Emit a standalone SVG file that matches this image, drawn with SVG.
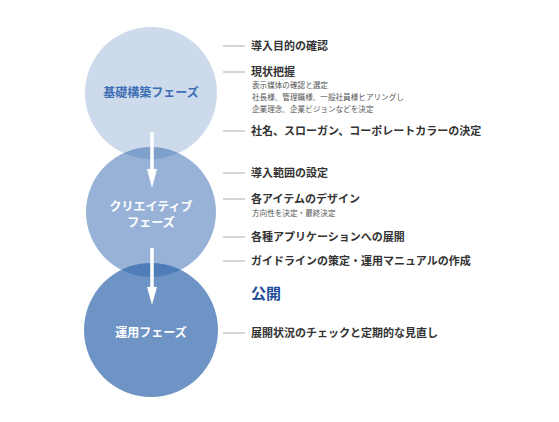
<svg xmlns="http://www.w3.org/2000/svg" width="559" height="422" viewBox="0 0 559 422">
<defs>
<style>
.ph{fill:#2f66ad}
.lbl{font-family:"Noto Sans CJK JP","Noto Sans",sans-serif;font-weight:700;font-size:12px;text-anchor:middle;fill:#fff}
.it{font-family:"Noto Sans CJK JP","Liberation Serif",sans-serif;font-weight:700;font-size:11px;fill:#333}
.sm{font-family:"Noto Sans CJK JP","Liberation Sans",sans-serif;font-size:7.6px;fill:#555}
.ln{stroke:#aaa;stroke-width:1}
.ar{stroke:#fff;stroke-width:3.5}
</style>
</defs>
<rect width="559" height="422" fill="#fff"/>
<g id="phase1"><circle class="ph" cx="151" cy="93" r="66" fill-opacity="0.24"/><text class="lbl" x="151" y="97" style="fill:#3d6fb5">基礎構築フェーズ</text></g>
<g id="phase2"><circle class="ph" cx="151" cy="212" r="65" fill-opacity="0.5"/><text class="lbl" x="151" y="211">クリエイティブ</text><text class="lbl" x="151" y="227">フェーズ</text></g>
<g id="phase3"><circle class="ph" cx="151" cy="330" r="67" fill-opacity="0.7"/><text class="lbl" x="151" y="337">運用フェーズ</text></g>
<g id="connectors">
<line class="ar" x1="152" y1="132" x2="152" y2="171"/>
<path d="M147,169 L157,169 L152,188 Z" fill="#fff"/>
<line class="ar" x1="152" y1="248" x2="152" y2="289"/>
<path d="M147,287 L157,287 L152,305 Z" fill="#fff"/>
<line class="ln" x1="223" y1="46" x2="245" y2="46"/>
<line class="ln" x1="223" y1="72" x2="245" y2="72"/>
<line class="ln" x1="223" y1="131" x2="245" y2="131"/>
<line class="ln" x1="223" y1="173" x2="245" y2="173"/>
<line class="ln" x1="223" y1="199" x2="245" y2="199"/>
<line class="ln" x1="223" y1="237" x2="245" y2="237"/>
<line class="ln" x1="223" y1="261" x2="245" y2="261"/>
<line class="ln" x1="223" y1="333" x2="245" y2="333"/>
</g>
<g id="items">
<text class="it" x="251" y="50">導入目的の確認</text>
<text class="it" x="251" y="76">現状把握</text>
<text class="sm" x="252" y="88">表示媒体の確認と選定</text>
<text class="sm" x="252" y="100">社長様、管理職様、一般社員様ヒアリングし</text>
<text class="sm" x="252" y="112">企業理念、企業ビジョンなどを決定</text>
<text class="it" x="251" y="135">社名、スローガン、コーポレートカラーの決定</text>
<text class="it" x="251" y="177">導入範囲の設定</text>
<text class="it" x="251" y="203">各アイテムのデザイン</text>
<text class="sm" x="252" y="216">方向性を決定・最終決定</text>
<text class="it" x="251" y="241">各種アプリケーションへの展開</text>
<text class="it" x="251" y="265">ガイドラインの策定・運用マニュアルの作成</text>
<text x="251" y="299" style="font-family:'Noto Sans CJK JP',sans-serif;font-weight:700;font-size:15px;fill:#1f4f9a">公開</text>
<text class="it" x="251" y="337">展開状況のチェックと定期的な見直し</text>
</g>
</svg>
